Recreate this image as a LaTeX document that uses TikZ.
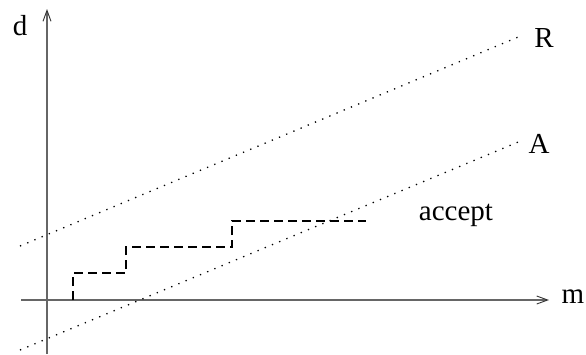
\documentclass[tikz,border=0pt]{standalone}
\usepackage{fontspec}
\setmainfont{Liberation Serif}
\usetikzlibrary{arrows.meta}
\begin{document}
\begin{tikzpicture}[x=1pt,y=-1pt,
  axis/.style={draw=black!60,line width=1.1pt,-{Straight Barb[length=11pt,width=8pt,line width=0.9pt,black!80]}},
  bound/.style={draw=black,line width=1.3pt,dash pattern=on 1.3pt off 6.5pt},
  stair/.style={draw=black,line width=1.1pt,dash pattern=on 9pt off 5pt},
  lbl/.style={font=\fontsize{29}{31}\selectfont,inner sep=0pt}]
\useasboundingbox (0,0) rectangle (586,354);
% axes
\coordinate (ybot) at (47,354);
\coordinate (ytop) at (47,9);
\coordinate (xl) at (21,300);
\coordinate (xr) at (549,300);
\draw[axis] (ybot) -- (ytop);
\draw[axis] (xl) -- (xr);
\node[lbl] (d) at (20,26) {d};
\node[lbl] (m) at (573,297) {m};
% boundary lines
\coordinate (r0) at (20,246);
\coordinate (r1) at (523,35);
\coordinate (a0) at (20,350);
\coordinate (a1) at (523,140);
\draw[bound] (r0) -- (r1);
\draw[bound] (a0) -- (a1);
\node[lbl] (R) at (544,38) {R};
\node[lbl] (A) at (539,144) {A};
\node[lbl] (accept) at (456,215) {accept};
% staircase
\coordinate (s0) at (73,300);
\coordinate (s1) at (73,273);
\coordinate (s2) at (126,273);
\coordinate (s3) at (126,247);
\coordinate (s4) at (232,247);
\coordinate (s5) at (232,221);
\coordinate (s6) at (366,221);
\draw[stair] (s0) -- (s1) -- (s2) -- (s3) -- (s4) -- (s5) -- (s6);
\end{tikzpicture}
\end{document}
